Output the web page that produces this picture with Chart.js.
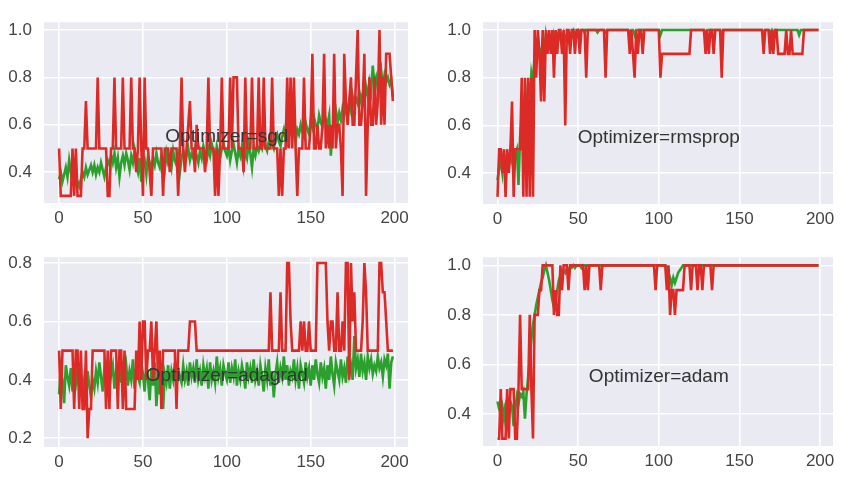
<!DOCTYPE html>
<html>
<head>
<meta charset="utf-8">
<title>Optimizer comparison</title>
<script src="https://cdn.jsdelivr.net/npm/chart.js@4/dist/chart.umd.min.js"></script>
<style>
  body { margin: 0; background: #fff; }
  #wrap { position: relative; width: 845px; height: 478px; }
  canvas { position: absolute; }
</style>
</head>
<body>
<div id="wrap">
  <canvas id="c-sgd" width="420" height="235" style="left:0;top:0"></canvas>
  <canvas id="c-rmsprop" width="425" height="235" style="left:420px;top:0"></canvas>
  <canvas id="c-adagrad" width="420" height="243" style="left:0;top:235px"></canvas>
  <canvas id="c-adam" width="425" height="243" style="left:420px;top:235px"></canvas>
</div>
<script>
// epochs 0..199, one accuracy value per epoch
const epochs = [...Array(200).keys()];
const xTicks = [0, 50, 100, 150, 200];
const yTicksHigh = [0.4, 0.6, 0.8, 1.0];
const yTicksLow = [0.2, 0.4, 0.6, 0.8];

const sgdTrain = [
  0.37,0.40,0.36,0.39,0.42,0.38,0.45,0.40,0.36,0.35,0.38,0.36,0.34,0.37,0.40,0.38,0.42,0.39,0.41,0.43,
  0.40,0.43,0.39,0.42,0.40,0.44,0.41,0.38,0.42,0.45,0.43,0.47,0.44,0.48,0.42,0.46,0.38,0.44,0.47,0.43,
  0.48,0.45,0.41,0.47,0.44,0.49,0.43,0.40,0.46,0.36,0.42,0.45,0.39,0.47,0.44,0.41,0.46,0.43,0.48,0.44,
  0.42,0.47,0.45,0.41,0.48,0.44,0.46,0.42,0.49,0.45,0.43,0.47,0.40,0.46,0.49,0.44,0.47,0.50,0.45,0.48,
  0.46,0.50,0.47,0.44,0.49,0.46,0.51,0.48,0.45,0.50,0.47,0.52,0.49,0.45,0.51,0.48,0.46,0.50,0.52,0.49,
  0.47,0.51,0.45,0.49,0.52,0.48,0.44,0.50,0.47,0.51,0.43,0.49,0.46,0.52,0.48,0.42,0.50,0.47,0.51,0.49,
  0.52,0.50,0.54,0.51,0.49,0.53,0.55,0.52,0.50,0.54,0.56,0.53,0.51,0.55,0.58,0.54,0.52,0.56,0.59,0.55,
  0.57,0.53,0.58,0.56,0.60,0.57,0.55,0.61,0.58,0.56,0.62,0.59,0.63,0.60,0.58,0.64,0.61,0.59,0.65,0.62,
  0.60,0.64,0.47,0.58,0.63,0.66,0.61,0.65,0.62,0.67,0.64,0.68,0.65,0.70,0.66,0.72,0.68,0.71,0.69,0.74,
  0.70,0.73,0.71,0.76,0.72,0.78,0.74,0.85,0.77,0.80,0.75,0.79,0.83,0.76,0.81,0.78,0.80,0.77,0.79,0.72
];
const sgdVal = [
  0.5,0.3,0.3,0.3,0.3,0.3,0.3,0.3,0.5,0.3,0.5,0.3,0.3,0.3,0.5,0.5,0.7,0.5,0.5,0.5,
  0.5,0.5,0.5,0.8,0.5,0.5,0.5,0.5,0.5,0.3,0.3,0.5,0.5,0.8,0.5,0.5,0.5,0.5,0.8,0.5,
  0.5,0.5,0.5,0.8,0.5,0.5,0.4,0.5,0.8,0.5,0.3,0.8,0.5,0.5,0.4,0.3,0.5,0.5,0.5,0.5,
  0.5,0.5,0.3,0.5,0.5,0.5,0.4,0.5,0.5,0.5,0.5,0.3,0.5,0.8,0.5,0.4,0.5,0.6,0.7,0.5,
  0.5,0.4,0.6,0.5,0.5,0.5,0.5,0.4,0.5,0.8,0.5,0.5,0.5,0.3,0.5,0.3,0.5,0.8,0.5,0.5,
  0.5,0.5,0.8,0.5,0.8,0.8,0.8,0.5,0.5,0.5,0.4,0.8,0.5,0.5,0.5,0.8,0.5,0.5,0.5,0.8,
  0.5,0.5,0.8,0.5,0.5,0.5,0.5,0.8,0.5,0.5,0.5,0.3,0.5,0.3,0.5,0.5,0.8,0.5,0.8,0.5,
  0.8,0.5,0.3,0.5,0.5,0.5,0.8,0.5,0.5,0.5,0.6,0.9,0.5,0.5,0.6,0.5,0.5,0.6,0.9,0.5,
  0.6,0.5,0.6,0.5,0.9,0.5,0.6,0.6,0.5,0.3,0.9,0.7,0.6,0.7,0.8,0.6,0.6,0.8,1.0,0.6,
  0.6,0.7,0.9,0.3,0.6,0.8,0.6,0.6,0.8,0.6,0.7,1.0,0.6,0.8,0.6,0.9,0.9,0.9,0.8,0.7
];

const rmspropTrain = [
  0.37,0.42,0.45,0.40,0.48,0.38,0.46,0.43,0.49,0.45,0.41,0.48,0.50,0.35,0.55,0.62,0.58,0.70,0.66,0.78,
  0.72,0.82,0.78,0.90,0.88,0.95,0.92,0.85,0.97,0.90,0.98,0.94,0.97,0.96,0.93,0.98,0.95,0.98,0.99,0.96,
  0.97,0.99,0.96,0.98,0.99,0.97,0.99,1.00,0.98,0.99,1.00,0.99,1.00,1.00,0.99,1.00,1.00,1.00,1.00,1.00,
  1.00,1.00,0.99,1.00,1.00,1.00,1.00,0.99,1.00,1.00,1.00,1.00,1.00,1.00,1.00,1.00,1.00,1.00,1.00,1.00,
  1.00,1.00,0.99,1.00,1.00,0.98,1.00,1.00,1.00,1.00,1.00,1.00,1.00,1.00,1.00,1.00,1.00,1.00,1.00,1.00,
  1.00,0.98,1.00,1.00,1.00,1.00,1.00,1.00,1.00,1.00,1.00,1.00,1.00,1.00,1.00,1.00,1.00,1.00,1.00,1.00,
  1.00,1.00,1.00,1.00,1.00,1.00,1.00,1.00,1.00,0.99,1.00,1.00,1.00,1.00,1.00,1.00,1.00,1.00,1.00,0.98,
  1.00,1.00,1.00,1.00,1.00,1.00,1.00,1.00,1.00,1.00,1.00,1.00,1.00,1.00,1.00,1.00,1.00,1.00,1.00,1.00,
  1.00,1.00,1.00,1.00,1.00,0.99,1.00,1.00,1.00,0.99,1.00,0.98,1.00,1.00,1.00,1.00,1.00,1.00,1.00,1.00,
  1.00,1.00,1.00,1.00,1.00,1.00,1.00,0.98,1.00,1.00,1.00,1.00,1.00,1.00,1.00,1.00,1.00,1.00,1.00,1.00
];
const rmspropVal = [
  0.3,0.5,0.5,0.4,0.5,0.3,0.5,0.4,0.5,0.7,0.3,0.5,0.5,0.5,0.5,0.8,0.3,0.8,0.3,0.8,
  0.3,0.8,0.3,1.0,0.8,1.0,0.9,0.7,1.0,0.7,1.0,0.9,1.0,0.9,1.0,0.8,1.0,0.9,1.0,1.0,
  0.9,1.0,0.6,1.0,1.0,0.9,1.0,1.0,0.9,1.0,1.0,0.9,1.0,1.0,1.0,0.8,1.0,1.0,1.0,1.0,
  1.0,1.0,1.0,1.0,1.0,1.0,1.0,0.8,1.0,1.0,1.0,1.0,1.0,1.0,1.0,1.0,1.0,1.0,1.0,1.0,
  1.0,1.0,0.9,1.0,0.9,0.8,1.0,0.9,1.0,1.0,0.9,1.0,1.0,1.0,1.0,1.0,1.0,1.0,1.0,1.0,
  1.0,0.8,0.9,0.9,0.9,0.9,0.9,0.9,0.9,0.9,0.9,0.9,0.9,0.9,0.9,0.9,0.9,0.9,0.9,0.9,
  1.0,1.0,1.0,1.0,1.0,1.0,1.0,1.0,1.0,0.9,1.0,0.9,1.0,1.0,0.9,1.0,1.0,1.0,1.0,0.8,
  1.0,1.0,1.0,1.0,1.0,1.0,1.0,1.0,1.0,1.0,1.0,1.0,1.0,1.0,1.0,1.0,1.0,1.0,1.0,1.0,
  1.0,1.0,1.0,1.0,1.0,0.9,1.0,1.0,1.0,0.9,1.0,0.9,1.0,1.0,0.9,0.9,0.9,0.9,0.9,1.0,
  0.9,0.9,1.0,0.9,0.9,0.9,0.9,0.9,0.9,0.9,1.0,1.0,1.0,1.0,1.0,1.0,1.0,1.0,1.0,1.0
];

const adagradTrain = [
  0.35,0.44,0.40,0.32,0.45,0.41,0.38,0.44,0.36,0.42,0.39,0.45,0.37,0.41,0.33,0.40,0.36,0.43,0.38,0.34,
  0.40,0.37,0.43,0.39,0.46,0.41,0.36,0.44,0.40,0.47,0.38,0.42,0.45,0.37,0.43,0.40,0.46,0.39,0.44,0.41,
  0.45,0.38,0.43,0.40,0.47,0.37,0.44,0.41,0.39,0.46,0.42,0.36,0.45,0.40,0.33,0.44,0.38,0.46,0.31,0.41,
  0.35,0.44,0.30,0.42,0.39,0.45,0.37,0.43,0.40,0.46,0.38,0.44,0.41,0.39,0.45,0.40,0.43,0.38,0.46,0.41,
  0.44,0.39,0.47,0.40,0.43,0.38,0.45,0.41,0.44,0.37,0.46,0.40,0.43,0.39,0.48,0.41,0.44,0.38,0.45,0.42,
  0.40,0.46,0.39,0.44,0.41,0.47,0.38,0.43,0.40,0.45,0.42,0.37,0.46,0.41,0.44,0.39,0.47,0.40,0.43,0.38,
  0.45,0.41,0.36,0.44,0.40,0.47,0.38,0.43,0.34,0.42,0.46,0.39,0.44,0.41,0.48,0.40,0.45,0.38,0.43,0.41,
  0.47,0.40,0.44,0.37,0.45,0.42,0.39,0.46,0.41,0.44,0.38,0.45,0.40,0.47,0.42,0.39,0.46,0.41,0.44,0.37,
  0.45,0.40,0.48,0.42,0.38,0.46,0.43,0.40,0.47,0.41,0.44,0.39,0.48,0.42,0.45,0.40,0.55,0.44,0.47,0.41,
  0.49,0.43,0.46,0.40,0.48,0.44,0.47,0.42,0.45,0.43,0.48,0.44,0.46,0.41,0.47,0.45,0.49,0.37,0.46,0.48
];
const adagradVal = [
  0.5,0.3,0.5,0.5,0.5,0.5,0.5,0.5,0.5,0.3,0.5,0.5,0.3,0.5,0.3,0.3,0.5,0.2,0.3,0.3,
  0.5,0.5,0.5,0.5,0.5,0.5,0.5,0.5,0.3,0.5,0.3,0.5,0.5,0.5,0.5,0.3,0.5,0.5,0.3,0.5,
  0.3,0.3,0.3,0.3,0.3,0.3,0.5,0.4,0.6,0.4,0.6,0.6,0.4,0.5,0.5,0.6,0.4,0.5,0.6,0.4,
  0.5,0.3,0.5,0.5,0.5,0.5,0.5,0.5,0.5,0.5,0.3,0.5,0.5,0.5,0.5,0.5,0.5,0.5,0.6,0.6,
  0.6,0.6,0.5,0.5,0.5,0.5,0.5,0.5,0.5,0.5,0.5,0.5,0.5,0.5,0.5,0.5,0.5,0.5,0.5,0.5,
  0.5,0.5,0.5,0.5,0.5,0.5,0.5,0.5,0.5,0.5,0.5,0.5,0.5,0.5,0.5,0.5,0.5,0.5,0.5,0.5,
  0.5,0.5,0.5,0.5,0.5,0.5,0.7,0.5,0.5,0.5,0.5,0.5,0.7,0.5,0.5,0.5,0.8,0.8,0.6,0.5,
  0.5,0.5,0.5,0.5,0.6,0.5,0.6,0.5,0.5,0.6,0.5,0.5,0.5,0.5,0.8,0.8,0.8,0.8,0.8,0.8,
  0.6,0.5,0.6,0.6,0.5,0.5,0.7,0.5,0.5,0.6,0.5,0.8,0.8,0.4,0.8,0.6,0.7,0.5,0.5,0.5,
  0.5,0.6,0.8,0.7,0.5,0.5,0.5,0.5,0.5,0.5,0.5,0.8,0.8,0.7,0.7,0.6,0.5,0.5,0.5,0.5
];

const adamTrain = [
  0.45,0.42,0.40,0.43,0.38,0.44,0.46,0.40,0.45,0.43,0.35,0.42,0.47,0.44,0.48,0.47,0.49,0.38,0.48,0.55,
  0.62,0.70,0.76,0.80,0.84,0.87,0.90,0.93,0.95,0.98,1.00,0.97,0.94,0.90,0.86,0.83,0.85,0.90,0.94,0.96,
  0.97,0.98,0.97,0.99,0.98,0.99,0.99,1.00,0.99,1.00,1.00,1.00,0.99,1.00,1.00,1.00,1.00,1.00,1.00,1.00,
  1.00,1.00,1.00,1.00,1.00,1.00,1.00,1.00,1.00,1.00,1.00,1.00,1.00,1.00,1.00,1.00,1.00,1.00,1.00,1.00,
  1.00,1.00,1.00,1.00,1.00,1.00,1.00,1.00,1.00,1.00,1.00,1.00,1.00,1.00,1.00,1.00,1.00,1.00,1.00,1.00,
  1.00,1.00,1.00,1.00,1.00,0.99,0.97,0.95,0.92,0.95,0.93,0.95,0.97,0.98,0.99,1.00,1.00,1.00,1.00,1.00,
  1.00,1.00,1.00,1.00,1.00,1.00,1.00,1.00,1.00,1.00,1.00,1.00,1.00,1.00,1.00,1.00,1.00,1.00,1.00,1.00,
  1.00,1.00,1.00,1.00,1.00,1.00,1.00,1.00,1.00,1.00,1.00,1.00,1.00,1.00,1.00,1.00,1.00,1.00,1.00,1.00,
  1.00,1.00,1.00,1.00,1.00,1.00,1.00,1.00,1.00,1.00,1.00,1.00,1.00,1.00,1.00,1.00,1.00,1.00,1.00,1.00,
  1.00,1.00,1.00,1.00,1.00,1.00,1.00,1.00,1.00,1.00,1.00,1.00,1.00,1.00,1.00,1.00,1.00,1.00,1.00,1.00
];
const adamVal = [
  0.3,0.3,0.5,0.3,0.3,0.3,0.5,0.3,0.5,0.5,0.5,0.3,0.3,0.5,0.8,0.5,0.5,0.5,0.5,0.5,
  0.8,0.5,0.3,0.8,0.8,0.8,0.9,0.9,1.0,1.0,1.0,1.0,1.0,1.0,1.0,0.8,0.9,0.8,0.8,1.0,
  0.9,1.0,1.0,1.0,0.9,1.0,1.0,1.0,1.0,1.0,1.0,1.0,1.0,1.0,0.9,1.0,0.9,1.0,1.0,1.0,
  1.0,1.0,1.0,1.0,0.9,1.0,1.0,1.0,1.0,1.0,1.0,1.0,1.0,1.0,1.0,1.0,1.0,1.0,1.0,1.0,
  1.0,1.0,1.0,1.0,1.0,1.0,1.0,1.0,1.0,1.0,1.0,1.0,1.0,1.0,1.0,1.0,1.0,1.0,0.9,1.0,
  1.0,1.0,1.0,1.0,1.0,0.9,1.0,0.8,0.9,0.9,0.8,0.9,0.9,0.9,0.9,0.9,1.0,1.0,1.0,1.0,
  0.9,1.0,1.0,1.0,0.9,1.0,1.0,0.9,1.0,1.0,1.0,1.0,1.0,0.9,1.0,1.0,1.0,1.0,1.0,1.0,
  1.0,1.0,1.0,1.0,1.0,1.0,1.0,1.0,1.0,1.0,1.0,1.0,1.0,1.0,1.0,1.0,1.0,1.0,1.0,1.0,
  1.0,1.0,1.0,1.0,1.0,1.0,1.0,1.0,1.0,1.0,1.0,1.0,1.0,1.0,1.0,1.0,1.0,1.0,1.0,1.0,
  1.0,1.0,1.0,1.0,1.0,1.0,1.0,1.0,1.0,1.0,1.0,1.0,1.0,1.0,1.0,1.0,1.0,1.0,1.0,1.0
];

const FONT = '"Liberation Sans", Arial, sans-serif';

// grey panel behind the plot area (seaborn darkgrid look)
const panelBg = {
  id: 'panelBg',
  beforeDraw(chart) {
    const { ctx, chartArea: a } = chart;
    ctx.save();
    ctx.fillStyle = '#eaeaf2';
    ctx.fillRect(a.left, a.top, a.right - a.left, a.bottom - a.top);
    ctx.restore();
  }
};

// "Optimizer=..." text written inside each panel
const panelText = {
  id: 'panelText',
  afterDatasetsDraw(chart, args, opts) {
    const { ctx, scales } = chart;
    ctx.save();
    ctx.font = '19px ' + FONT;
    ctx.fillStyle = '#333';
    ctx.textAlign = 'center';
    ctx.textBaseline = 'middle';
    ctx.fillText(opts.text, scales.x.getPixelForValue(opts.x), scales.y.getPixelForValue(opts.y));
    ctx.restore();
  }
};

function toPoints(values) {
  return values.map((v, i) => ({ x: epochs[i], y: v }));
}

function drawPanel(id, name, train, val, cfg) {
  const ctx = document.getElementById(id).getContext('2d');
  const grid = { color: '#ffffff', lineWidth: 1.6, drawTicks: false };
  const tickFont = { family: FONT, size: 17 };

  new Chart(ctx, {
    type: 'line',
    data: {
      datasets: [
        // validation first so it is painted on top
        { data: toPoints(val), borderColor: '#dc2b27', borderWidth: 2.6 },
        { data: toPoints(train), borderColor: '#2ca02c', borderWidth: 2.6 }
      ]
    },
    options: {
      responsive: false,
      animation: false,
      devicePixelRatio: 1,
      layout: { padding: { top: cfg.padTop, right: 12, left: 0, bottom: 0 } },
      elements: { point: { radius: 0 }, line: { tension: 0, fill: false } },
      plugins: {
        legend: { display: false },
        tooltip: { enabled: false },
        panelText: { text: 'Optimizer=' + name, x: 100, y: cfg.textY }
      },
      scales: {
        x: {
          type: 'linear',
          min: -9,
          max: 208,
          grid: grid,
          border: { display: false },
          ticks: { color: '#444', font: tickFont, padding: 5 },
          afterBuildTicks: s => { s.ticks = xTicks.map(v => ({ value: v })); },
          afterFit: s => { s.height = cfg.xHeight; }
        },
        y: {
          min: cfg.yMin,
          max: cfg.yMax,
          grid: grid,
          border: { display: false },
          ticks: { color: '#444', font: tickFont, padding: 12, callback: v => v.toFixed(1) },
          afterBuildTicks: s => { s.ticks = cfg.yTicks.map(v => ({ value: v })); },
          afterFit: s => { s.width = cfg.yWidth; }
        }
      }
    },
    plugins: [panelBg, panelText]
  });
}

drawPanel('c-sgd', 'sgd', sgdTrain, sgdVal,
  { yMin: 0.27, yMax: 1.033, yTicks: yTicksHigh, yWidth: 44, xHeight: 32, padTop: 7, textY: 0.55 });
drawPanel('c-rmsprop', 'rmsprop', rmspropTrain, rmspropVal,
  { yMin: 0.27, yMax: 1.033, yTicks: yTicksHigh, yWidth: 63, xHeight: 31, padTop: 7, textY: 0.55 });
drawPanel('c-adagrad', 'adagrad', adagradTrain, adagradVal,
  { yMin: 0.17, yMax: 0.82, yTicks: yTicksLow, yWidth: 44, xHeight: 31, padTop: 13, textY: 0.415 });
drawPanel('c-adam', 'adam', adamTrain, adamVal,
  { yMin: 0.27, yMax: 1.033, yTicks: yTicksHigh, yWidth: 63, xHeight: 32, padTop: 13, textY: 0.55 });
</script>
</body>
</html>
